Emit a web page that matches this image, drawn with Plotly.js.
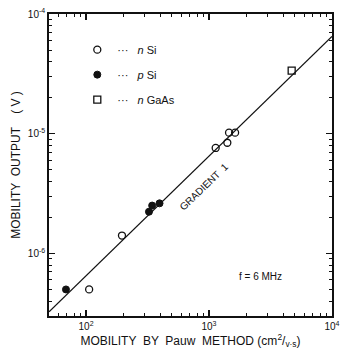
<!DOCTYPE html>
<html>
<head>
<meta charset="utf-8">
<script src="https://cdn.plot.ly/plotly-3.0.1.min.js"></script>
<style>html,body{margin:0;padding:0;background:#fff;}#chart{width:340px;height:355px;}</style>
</head>
<body>
<div id="chart"></div>
<script>
// n Si (open circles)
const nSiX = [106, 196, 1133, 1409, 1455, 1630];
const nSiY = [5.0e-7, 1.41e-6, 7.6e-6, 8.4e-6, 1.02e-5, 1.02e-5];
// p Si (filled circles)
const pSiX = [68.7, 325, 345, 396];
const pSiY = [5.0e-7, 2.23e-6, 2.51e-6, 2.62e-6];
// n GaAs (open squares)
const gaAsX = [4700];
const gaAsY = [3.36e-5];
// gradient-1 reference line
const lineX = [50, 10000];
const lineY = [3.25e-7, 6.5e-5];

const xTickVals = [100, 1000, 10000];
const xTickText = ['10<sup>2</sup>', '10<sup>3</sup>', '10<sup>4</sup>'];
const yTickVals = [1e-6, 1e-5, 1e-4];
const yTickText = ['10<sup>-6</sup>', '10<sup>-5</sup>', '10<sup>-4</sup>'];

function minorTicks(lo, hi) {
  const v = [];
  for (let e = lo; e < hi; e++) for (let m = 2; m <= 9; m++) v.push(m * Math.pow(10, e));
  return v;
}

const ink = '#111111';
const font = 'Liberation Sans, Arial, sans-serif';

const traces = [
  {x: lineX, y: lineY, mode: 'lines', line: {color: ink, width: 1.3}, showlegend: false, hoverinfo: 'skip'},
  {x: nSiX, y: nSiY, mode: 'markers', name: '···   <i>n</i> Si', legendgroup: 'a',
   marker: {symbol: 'circle-open', size: 7, color: ink, line: {width: 1.3, color: ink}}},
  {x: pSiX, y: pSiY, mode: 'markers', name: '···   <i>p</i> Si', legendgroup: 'b',
   marker: {symbol: 'circle', size: 7, color: ink, line: {width: 1, color: ink}}},
  {x: gaAsX, y: gaAsY, mode: 'markers', name: '···   <i>n</i> GaAs', legendgroup: 'c',
   marker: {symbol: 'square-open', size: 7, color: ink, line: {width: 1.3, color: ink}}}
];

const axisCommon = {
  type: 'log', showgrid: false, zeroline: false, showline: true, linecolor: ink, linewidth: 1.8,
  mirror: 'ticks', ticks: 'inside', ticklen: 6, tickwidth: 1.2, tickcolor: ink,
  tickmode: 'array', tickfont: {family: font, size: 10, color: ink}
};

const layout = {
  width: 340, height: 355,
  margin: {l: 49, r: 8, t: 14, b: 39},
  paper_bgcolor: '#fff', plot_bgcolor: '#fff',
  font: {family: font, color: ink},
  showlegend: true,
  legend: {x: 0.1, y: 0.93, xanchor: 'left', yanchor: 'top', bgcolor: 'rgba(0,0,0,0)',
           font: {family: font, size: 11, color: ink}, tracegroupgap: 6, itemwidth: 30},
  xaxis: Object.assign({}, axisCommon, {
    range: [Math.log10(50), 4], tickvals: xTickVals, ticktext: xTickText,
    minor: {tickmode: 'array', tickvals: minorTicks(1, 4).filter(v => v >= 50), ticks: 'inside', ticklen: 3, tickwidth: 1, tickcolor: ink},
    title: {text: 'MOBILITY  BY  Pauw  METHOD (cm<sup>2</sup>/<sub>v·s</sub>)', font: {family: font, size: 12, color: ink}, standoff: 4}
  }),
  yaxis: Object.assign({}, axisCommon, {
    range: [Math.log10(3e-7), -4], tickvals: yTickVals, ticktext: yTickText,
    minor: {tickmode: 'array', tickvals: minorTicks(-7, -4).filter(v => v >= 3e-7), ticks: 'inside', ticklen: 3, tickwidth: 1, tickcolor: ink},
    title: {text: 'MOBILITY  OUTPUT    ( V )', font: {family: font, size: 12, color: ink}, standoff: 5}
  }),
  annotations: [
    {x: 2.959, y: -5.437, xref: 'x', yref: 'y', text: 'GRADIENT  1', showarrow: false, textangle: -44,
     xanchor: 'center', yanchor: 'middle', font: {family: font, size: 10, color: ink}},
    {x: 0.746, y: 0.132, xref: 'paper', yref: 'paper', text: 'f = 6 MHz', showarrow: false,
     xanchor: 'center', yanchor: 'middle', font: {family: font, size: 10, color: ink}}
  ]
};

Plotly.newPlot('chart', traces, layout, {displayModeBar: false, staticPlot: true});
</script>
</body>
</html>
